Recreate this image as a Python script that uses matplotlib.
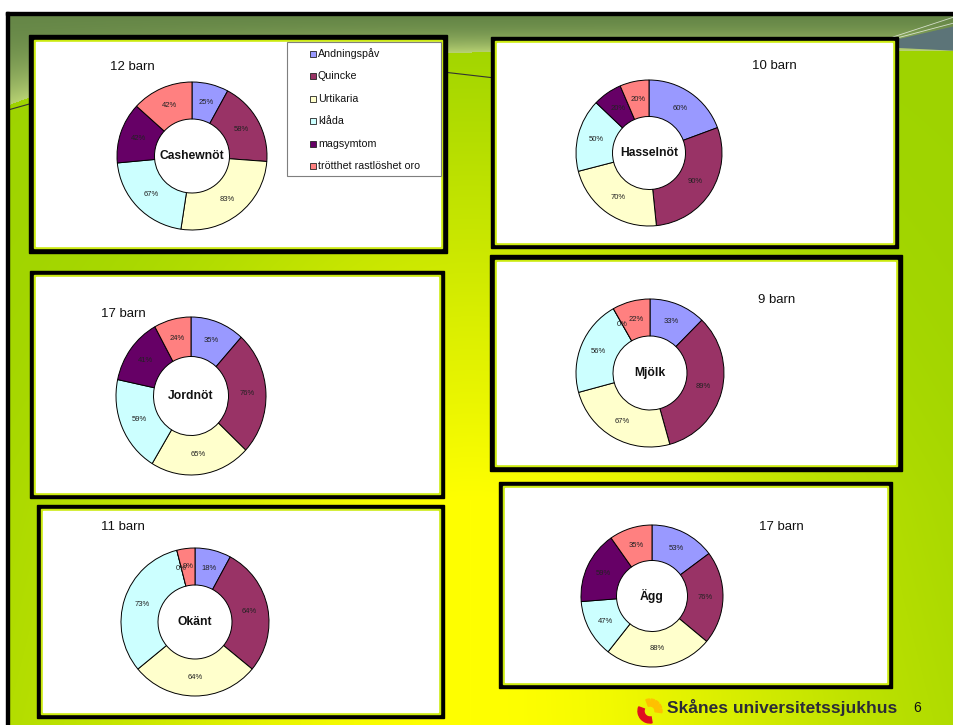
import numpy as np
import matplotlib.pyplot as plt
from matplotlib.patches import Rectangle, Wedge, Polygon

plt.rcParams['font.family'] = ['Liberation Sans', 'DejaVu Sans']

W, H = 954, 725

# data ---------------------------------------------------------------------
categories = ['Andningspåv', 'Quincke', 'Urtikaria', 'klåda', 'magsymtom',
              'trötthet rastlöshet oro']
colors = ['#9999ff', '#993366', '#ffffcc', '#ccffff', '#660066', '#ff8080']

foods = ['Cashewnöt', 'Hasselnöt', 'Jordnöt', 'Mjölk', 'Okänt', 'Ägg']
n_barn = [12, 10, 17, 9, 11, 17]
cashew = [25, 58, 83, 67, 42, 42]
hassel = [60, 90, 70, 50, 20, 20]
jordnot = [35, 76, 65, 59, 41, 24]
mjolk = [33, 89, 67, 56, 0, 22]
okant = [18, 64, 64, 73, 0, 9]
agg = [53, 76, 88, 47, 59, 35]
values = [cashew, hassel, jordnot, mjolk, okant, agg]

# layout (pixels) ------------------------------------------------------------
panels = [(29, 35, 447, 253, 5), (491, 37, 898, 248, 4), (30, 271, 444, 498, 4),
          (490, 255, 902, 471, 5), (37, 505, 444, 718, 4), (499, 482, 892, 688, 4)]
centers = [(192, 156), (649, 153), (191, 396), (650, 373), (195, 622), (652, 596)]
radii = [(75, 74), (73, 73), (75, 79), (74, 74), (74, 74), (71, 71)]
barn_pos = [(110, 67), (752, 66), (101, 314), (758, 300), (101, 527), (759, 527)]


def fig_rect(x0, y0, x1, y1):
    return [x0 / W, 1 - y1 / H, (x1 - x0) / W, (y1 - y0) / H]


fig = plt.figure(figsize=(W / 100, H / 100), dpi=100)

# background ---------------------------------------------------------------
yy, xx = np.mgrid[0:H, 0:W].astype(float)
green = np.array([0.62, 0.83, 0.0])
yellow = np.array([1.0, 1.0, 0.0])
f = np.exp(-((xx - 470) / (230 + 0.2 * yy)) ** 2) * np.clip((yy - 30) / 470, 0, 1)
img = green * (1 - f)[..., None] + yellow * f[..., None]

olive = np.array([0.40, 0.53, 0.28])
light = np.array([0.72, 0.82, 0.45])
yb = 50 + 58 * np.exp(-xx / 140)
t = np.clip((yy - 14) / (yb - 14), 0, 1)
band = olive * (1 - t ** 2)[..., None] + light * (t ** 2)[..., None]
img = np.where((yy < yb)[..., None], band, img)
img[:12, :, :] = 1.0
img[:, :6, :] = 1.0

bg = fig.add_axes([0, 0, 1, 1])
bg.imshow(img, extent=(0, W, H, 0), interpolation='bilinear')
bg.set_xlim(0, W)
bg.set_ylim(H, 0)
bg.axis('off')

# slide frame and decorations
bg.add_patch(Rectangle((6, 12), W, 3, color='black', zorder=2))
bg.add_patch(Rectangle((6, 12), 3, H, color='black', zorder=2))
bg.add_patch(Polygon([(893, 41), (954, 27), (954, 50), (893, 47)], color='#5c7478', zorder=1))
bg.plot([893, 954], [37, 17], color='white', lw=0.6, alpha=0.7)
bg.plot([893, 954], [39, 23], color='white', lw=0.6, alpha=0.7)
bg.plot([8, 40, 443, 495], [110, 101, 72, 78], color='#333333', lw=0.8, zorder=1)

# panels -------------------------------------------------------------------
for (x0, y0, x1, y1, b) in panels:
    bg.add_patch(Rectangle((x0, y0), x1 - x0, y1 - y0, color='black', zorder=3))
    bg.add_patch(Rectangle((x0 + b, y0 + b), x1 - x0 - 2 * b, y1 - y0 - 2 * b,
                           color='#ccea10', zorder=3))
    bg.add_patch(Rectangle((x0 + b + 2, y0 + b + 2), x1 - x0 - 2 * b - 4, y1 - y0 - 2 * b - 4,
                           color='white', zorder=3))

for (x, y), n in zip(barn_pos, n_barn):
    bg.text(x, y, f'{n} barn', fontsize=9.5, ha='left', va='center', color='#111111', zorder=4)

# donut charts ---------------------------------------------------------------
pad = 3
for food, vals, (cx, cy), (rx, ry) in zip(foods, values, centers, radii):
    ax = fig.add_axes(fig_rect(cx - rx - pad, cy - ry - pad, cx + rx + pad, cy + ry + pad))
    wedges, _ = ax.pie(vals, colors=colors, startangle=90, counterclock=False,
                       wedgeprops=dict(width=0.5, edgecolor='black', linewidth=0.7))
    ax.set_aspect('auto')
    ax.set_xlim(-1 - pad / rx, 1 + pad / rx)
    ax.set_ylim(-1 - pad / ry, 1 + pad / ry)
    ax.axis('off')
    for w, v in zip(wedges, vals):
        mid = np.deg2rad((w.theta1 + w.theta2) / 2)
        ax.text(0.75 * np.cos(mid), 0.75 * np.sin(mid), f'{v}%', fontsize=5.5,
                ha='center', va='center', color='#222222')
    ax.text(0, 0, food, fontsize=8.7, fontweight='bold', ha='center', va='center', color='#111111')

# legend in first panel
bg.add_patch(Rectangle((287, 42), 154, 134, fc='white', ec='#7f7f7f', lw=0.8, zorder=5))
for i, (cat, col) in enumerate(zip(categories, colors)):
    y = 54 + i * 22.4
    bg.add_patch(Rectangle((310, y - 3), 6, 6, fc=col, ec='#222222', lw=0.6, zorder=6))
    bg.text(318, y, cat, fontsize=7.7, ha='left', va='center', color='#111111', zorder=6)

# footer -------------------------------------------------------------------
# logo: yellow rays up/right, red crescent down/left (y axis is inverted here)
for a0 in [250, 275, 300, 325, 350]:
    bg.add_patch(Wedge((650, 711), 12, a0, a0 + 18, width=7, color='#ffc000', zorder=4))
bg.add_patch(Wedge((650, 711), 12, 80, 200, width=6, color='#e01020', zorder=4))
bg.text(667, 708, 'Skånes universitetssjukhus', fontsize=12.5, fontweight='bold',
        ha='left', va='center', color='#2b2b38', zorder=4)
bg.text(917, 708, '6', fontsize=10, ha='center', va='center', color='#111111', zorder=4)

fig.savefig('out.png', dpi=100)
